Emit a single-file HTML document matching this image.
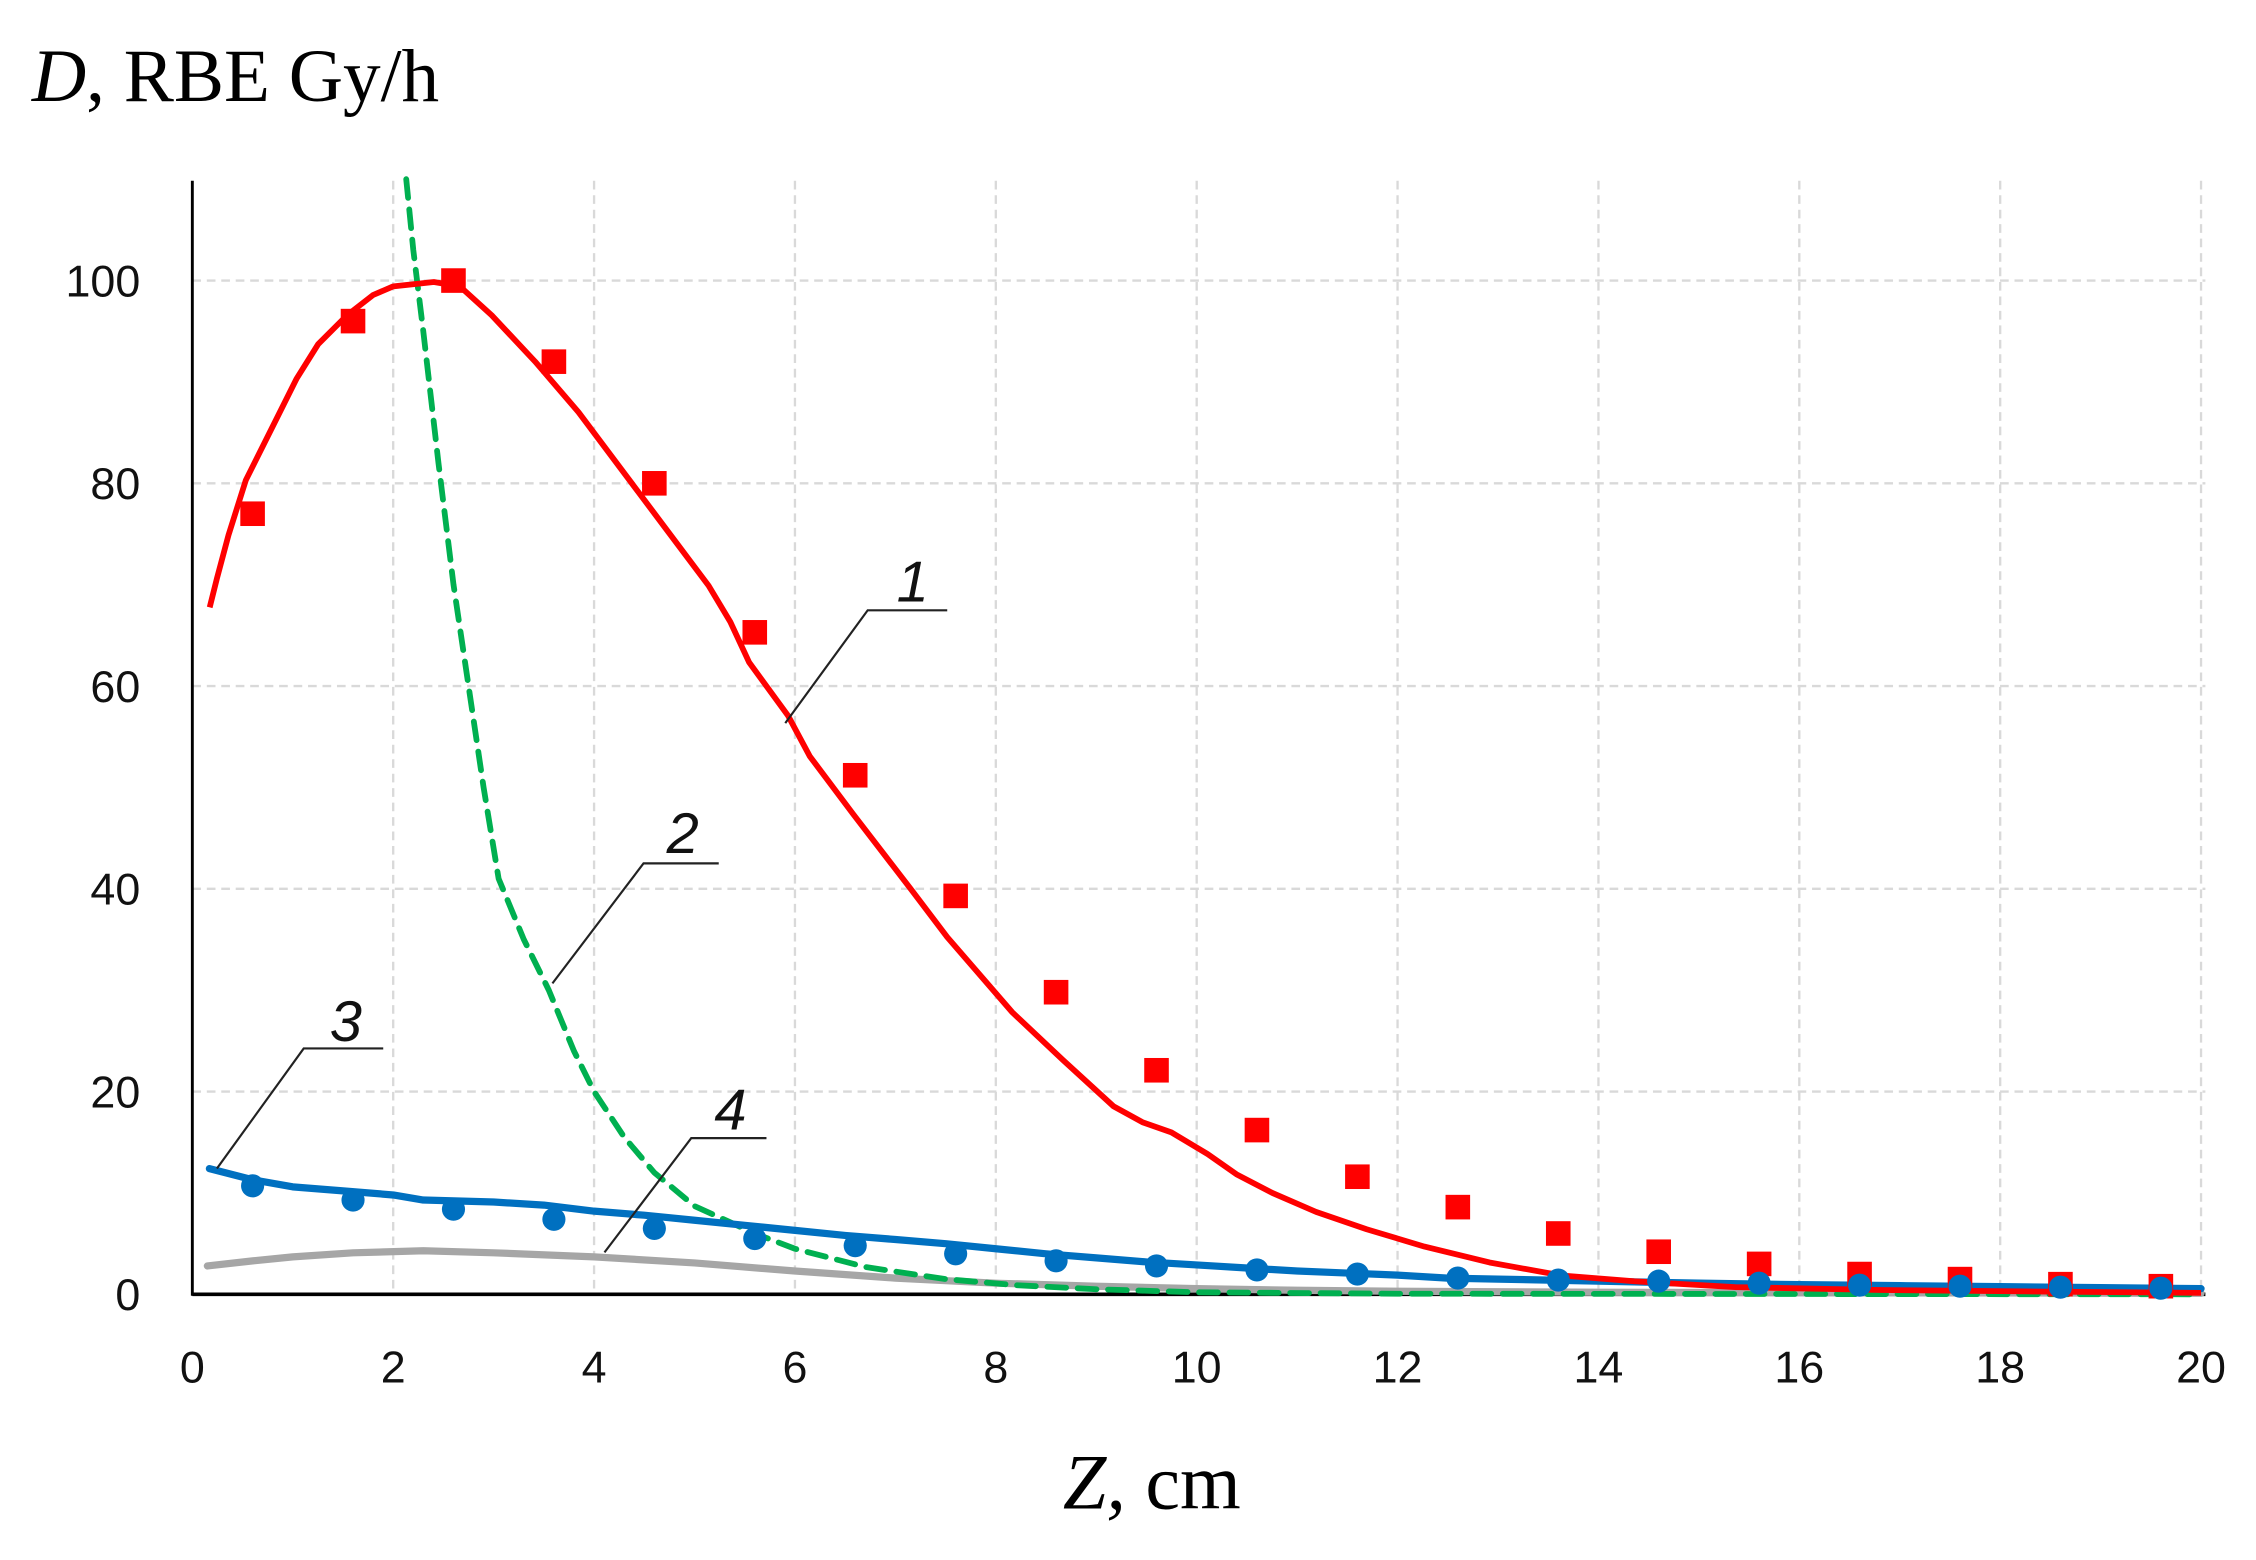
<!DOCTYPE html>
<html><head><meta charset="utf-8"><style>
html,body{margin:0;padding:0;background:#fff;}
svg{display:block;}
</style></head><body>
<svg id="s" width="2256" height="1560" viewBox="0 0 1560 1078.72" xmlns="http://www.w3.org/2000/svg">
<rect width="1560" height="1080" fill="#fff"/>
<g id="grid" stroke="#d9d9d9" stroke-width="1.6" stroke-dasharray="6,4"></g>
<line x1="133" y1="125" x2="133" y2="896" stroke="#000" stroke-width="2"/>
<line x1="133" y1="895" x2="1525" y2="895" stroke="#000" stroke-width="2.5"/>
<g id="ylab" font-family="'Liberation Sans',sans-serif" font-size="31" fill="#111" text-anchor="end"></g>
<g id="xlab" font-family="'Liberation Sans',sans-serif" font-size="31" fill="#111" text-anchor="middle"></g>
<g id="series"></g>
<g stroke="#222" stroke-width="1.5" fill="none">
<polyline points="655,422 600,422 543,500"/>
<polyline points="497,597 445,597 382,680"/>
<polyline points="265,725 210,725 150,808"/>
<polyline points="530,787 478,787 418,866"/>
</g>
<g font-family="'Liberation Sans',sans-serif" font-style="italic" font-size="40" fill="#111">
<text x="620" y="416">1</text>
<text x="461" y="590">2</text>
<text x="228" y="720">3</text>
<text x="494" y="781">4</text>
</g>
<text x="22" y="70" font-family="'Liberation Serif',serif" font-size="52" fill="#000"><tspan font-style="italic">D</tspan>, RBE Gy/h</text>
<text x="735" y="1043" font-family="'Liberation Serif',serif" font-size="54" fill="#000"><tspan font-style="italic">Z,</tspan> cm</text>
</svg>
<script>
var NS="http://www.w3.org/2000/svg";
function X(v){return 133+v*69.45;}
function Y(v){return 895-v*7.01;}
function el(t,a,p){var e=document.createElementNS(NS,t);for(var k in a)e.setAttribute(k,a[k]);p.appendChild(e);return e;}
var g=document.getElementById('grid');
for(var i=1;i<=10;i++){el('line',{x1:X(2*i),x2:X(2*i),y1:125,y2:895},g);}
for(var j=1;j<=5;j++){el('line',{x1:133,x2:1525,y1:Y(20*j),y2:Y(20*j)},g);}
var yl=document.getElementById('ylab');
for(var j=0;j<=5;j++){var t=el('text',{x:97,y:Y(20*j)+11},yl);t.textContent=20*j;}
var xl=document.getElementById('xlab');
for(var i=0;i<=10;i++){var t=el('text',{x:X(2*i),y:956},xl);t.textContent=2*i;}
var s=document.getElementById('series');
function path(pts,attrs){var d='M'+pts.map(function(p){return X(p[0]).toFixed(1)+','+Y(p[1]).toFixed(1);}).join(' L');attrs.d=d;attrs.fill='none';attrs['stroke-linejoin']='round';attrs['stroke-linecap']='round';return el('path',attrs,s);}
path([[0.15,2.8],[0.6,3.3],[1,3.7],[1.6,4.1],[2.3,4.3],[3,4.1],[4,3.7],[5,3.1],[6,2.3],[7,1.6],[8,1.1],[9,0.8],[10,0.55],[11,0.4],[12,0.3],[14,0.2],[16,0.15],[20,0.1]],{stroke:'#a6a6a6','stroke-width':5});
path([[2.13,110],[2.2,103],[2.3,95],[2.45,82],[2.6,70],[2.75,60],[2.9,50],[3.05,41],[3.3,35],[3.55,30],[3.8,24],[4,20],[4.3,15.5],[4.6,12],[5,8.7],[5.6,6],[6,4.5],[6.7,2.7],[7.5,1.5],[8.2,0.9],[9,0.5],[10,0.2],[12,0.05],[20,0]],{stroke:'#00b050','stroke-width':4,'stroke-dasharray':'13,8','stroke-linecap':'butt'});
path([[0.17,12.4],[0.6,11.3],[1,10.6],[1.5,10.2],[2,9.8],[2.3,9.3],[3,9.1],[3.5,8.8],[4,8.2],[4.5,7.8],[5,7.3],[5.5,6.8],[6,6.3],[6.5,5.8],[7,5.4],[7.5,5],[8,4.5],[8.5,4],[9,3.6],[9.5,3.2],[10,2.9],[10.5,2.6],[11,2.3],[11.5,2.1],[12,1.9],[12.5,1.6],[13,1.5],[14,1.3],[15,1.1],[16,0.95],[17,0.85],[18,0.75],[19,0.65],[20,0.55]],{stroke:'#0070c0','stroke-width':5});
var bd=[10.7,9.3,8.4,7.4,6.5,5.5,4.8,4,3.3,2.8,2.4,2,1.6,1.4,1.3,1.1,0.9,0.8,0.7,0.6];
var rp=[[145,420],[150,400],[158,370],[170,332],[190,292],[205,262],[220,238],[240,218],[258,204],[272,198],[300,195],[318,198],[340,218],[370,250],[400,285],[430,325],[460,365],[490,405],[505,430],[518,458],[545,495],[560,523],[590,563],[630,615],[655,648],[700,700],[735,733],[770,765],[790,776],[810,783],[835,798],[855,812],[880,825],[910,838],[945,850],[985,862],[1030,873],[1080,882],[1130,886],[1200,890],[1300,892],[1400,893],[1522,894]];
el('path',{d:'M'+rp.map(function(p){return p.join(',');}).join(' L'),fill:'none',stroke:'#ff0000','stroke-width':4,'stroke-linejoin':'round'},s);
var rd=[77,96,100,92,80,65.3,51.2,39.3,29.8,22.1,16.2,11.6,8.6,6,4.2,3,2,1.5,1,0.8];
for(var k=0;k<20;k++){var cx=X(0.6+k),cy=Y(rd[k]);el('rect',{x:cx-8.5,y:cy-8.5,width:17,height:17,fill:'#ff0000'},s);}
for(var k=0;k<20;k++){el('circle',{cx:X(0.6+k),cy:Y(bd[k]),r:8,fill:'#0070c0'},s);}
</script>
</body></html>
